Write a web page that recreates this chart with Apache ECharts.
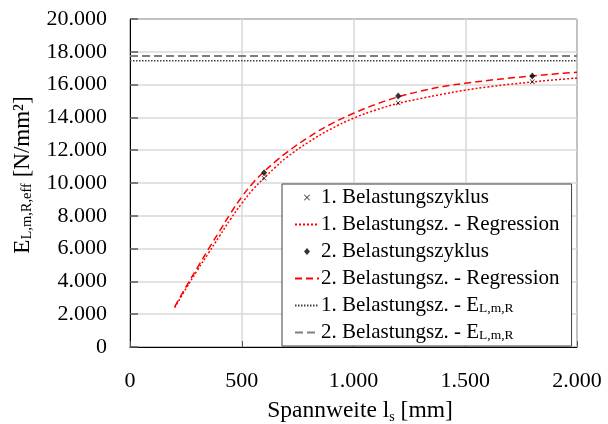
<!DOCTYPE html>
<html lang="de">

<head>
    <meta charset="UTF-8">
    <title>Spannweite E-Modul</title>
    <script src="https://cdn.jsdelivr.net/npm/echarts@6/dist/echarts.min.js"></script>
    <style>
        body {
            margin: 0;
        }

        #root {
            width: 608px;
            height: 424px;
        }
    </style>
</head>

<body>

    <div id="root"></div>
    <script>

        // Spannweite der Messpunkte [mm]
        var spans = [600, 1200, 1800];
        var cycle1 = [10290, 14880, 16170];
        var cycle2 = [10620, 15310, 16520];

        // Regressionskurven
        var regSpans = [200, 250, 300, 350, 400, 450, 500, 550, 600, 650, 700, 800, 900, 1000, 1100, 1200, 1300, 1400, 1500, 1600, 1700, 1800, 1900, 2000];
        var reg1 = [2400, 3550, 4650, 5700, 6750, 7800, 8750, 9600, 10300, 10950, 11550, 12500, 13300, 13950, 14450, 14850, 15150, 15420, 15660, 15860, 16020, 16160, 16290, 16400];
        var reg2 = [2450, 3650, 4800, 5950, 7050, 8150, 9150, 10000, 10700, 11300, 11850, 12800, 13600, 14250, 14800, 15250, 15600, 15880, 16080, 16250, 16400, 16530, 16650, 16750];

        // E_L,m,R
        var eRange = [0, 2000];
        var eLmR1 = 17450;
        var eLmR2 = 17750;

        var names = [
            '1. Belastungszyklus',
            '1. Belastungsz. - Regression',
            '2. Belastungszyklus',
            '2. Belastungsz. - Regression',
            '1. Belastungsz. - E_L,m,R',
            '2. Belastungsz. - E_L,m,R'
        ];

        var font = 'Liberation Serif';

        function zip(xs, ys) {
            return xs.map(function (x, i) { return [x, ys[i]]; });
        }

        // Tausenderpunkt
        function fmt(v) {
            return String(v).replace(/\B(?=(\d{3})+(?!\d))/g, '.');
        }

        var crossPath = 'path://M0,1L1,0L5,4L9,0L10,1L6,5L10,9L9,10L5,6L1,10L0,9L4,5Z';
        // Legendensymbole: kleines Zeichen mittig in 24x14-Feld
        var crossIcon = 'path://M0,0M24,14M9,4.6L9.6,4L12,6.4L14.4,4L15,4.6L12.6,7L15,9.4L14.4,10L12,7.6L9.6,10L9,9.4L11.4,7Z';
        var diamondIcon = 'path://M0,0M24,14M12,3.5L15,7L12,10.5L9,7Z';
        var noSymbol = { opacity: 0, color: 'rgba(0,0,0,0)', borderWidth: 0 };

        var mychart = echarts.init(document.getElementById('root'));

        mychart.setOption({
            animation: false,
            textStyle: { fontFamily: font, color: '#000' },
            grid: {
                left: 130, right: 31, top: 19, bottom: 77,
                outerBoundsMode: 'none',
                containLabel: false,
                show: true, borderColor: '#000', borderWidth: 1
            },
            legend: {
                data: [
                    { name: names[0], icon: crossIcon },
                    { name: names[1], itemStyle: noSymbol },
                    { name: names[2], icon: diamondIcon },
                    { name: names[3], itemStyle: noSymbol },
                    { name: names[4], itemStyle: noSymbol },
                    { name: names[5], itemStyle: noSymbol }
                ],
                orient: 'vertical',
                left: 282,
                top: 184,
                backgroundColor: '#fff',
                borderColor: '#404040',
                borderWidth: 1,
                borderRadius: 0,
                padding: [3, 12, 3, 12],
                itemWidth: 24,
                itemHeight: 14,
                itemGap: 6,
                formatter: function (n) {
                    if (n.indexOf('_') > 0) {
                        return '{m|' + n.split('_')[0] + '}{s|' + n.split('_')[1] + '}';
                    }
                    return '{m|' + n + '}';
                },
                textStyle: {
                    fontFamily: font,
                    color: '#000',
                    padding: [0, 0, 0, -3],
                    rich: {
                        m: { fontFamily: font, fontSize: 21, lineHeight: 20, color: '#000' },
                        s: { fontFamily: font, fontSize: 13.5, lineHeight: 12, verticalAlign: 'bottom', color: '#000' }
                    }
                }
            },
            xAxis: {
                type: 'value',
                min: 0,
                max: 2000,
                interval: 500,
                name: '{m|Spannweite l}{s|s}{m| [mm]}',
                nameLocation: 'middle',
                nameGap: 51,
                nameTextStyle: {
                    padding: [0, 0, 0, 13],
                    rich: {
                        m: { fontFamily: font, fontSize: 23.5, lineHeight: 26, color: '#000' },
                        s: { fontFamily: font, fontSize: 14, lineHeight: 13, verticalAlign: 'bottom', color: '#000' }
                    }
                },
                axisLine: { lineStyle: { color: '#000' } },
                axisTick: { inside: true, length: 6, lineStyle: { color: '#595959' } },
                axisLabel: { fontSize: 22, color: '#000', margin: 23, formatter: fmt },
                splitLine: { lineStyle: { color: '#d9d9d9', width: 1.5 } }
            },
            yAxis: {
                type: 'value',
                min: 0,
                max: 20000,
                interval: 2000,
                name: '{m|E}{s|L,m,R,eff}{m| [N/mm²]}',
                nameLocation: 'middle',
                nameGap: 95,
                nameTextStyle: {
                    padding: [0, 0, 0, 16],
                    rich: {
                        m: { fontFamily: font, fontSize: 23, lineHeight: 24, color: '#000' },
                        s: { fontFamily: font, fontSize: 14.5, lineHeight: 13, verticalAlign: 'bottom', color: '#000' }
                    }
                },
                axisLine: { show: true, lineStyle: { color: '#000' } },
                axisTick: { show: true, inside: true, length: 8, lineStyle: { color: '#595959', width: 1.5 } },
                axisLabel: { fontSize: 22, color: '#000', margin: 23, formatter: fmt },
                splitLine: { lineStyle: { color: '#d9d9d9', width: 1.5 } }
            },
            series: [
                {
                    name: names[0],
                    type: 'scatter',
                    symbol: crossPath,
                    symbolSize: 5,
                    itemStyle: { color: '#000' },
                    z: 5,
                    data: zip(spans, cycle1)
                },
                {
                    name: names[1],
                    type: 'line',
                    smooth: true,
                    symbol: 'none',
                    itemStyle: { color: '#ff0000' },
                    lineStyle: { color: '#ff0000', width: 1.5, type: [2, 2] },
                    data: zip(regSpans, reg1)
                },
                {
                    name: names[2],
                    type: 'scatter',
                    symbol: 'diamond',
                    symbolSize: [6, 7],
                    itemStyle: { color: '#000' },
                    z: 5,
                    data: zip(spans, cycle2)
                },
                {
                    name: names[3],
                    type: 'line',
                    smooth: true,
                    symbol: 'none',
                    itemStyle: { color: '#ff0000' },
                    lineStyle: { color: '#ff0000', width: 1.5, type: [7, 4] },
                    data: zip(regSpans, reg2)
                },
                {
                    name: names[4],
                    type: 'line',
                    symbol: 'none',
                    itemStyle: { color: '#404040' },
                    lineStyle: { color: '#404040', width: 1.5, type: [1.5, 1.5] },
                    data: zip(eRange, [eLmR1, eLmR1])
                },
                {
                    name: names[5],
                    type: 'line',
                    symbol: 'none',
                    itemStyle: { color: '#7f7f7f' },
                    lineStyle: { color: '#7f7f7f', width: 2, type: [8, 4] },
                    data: zip(eRange, [eLmR2, eLmR2])
                }
            ]
        });

    </script>

</body>

</html>
